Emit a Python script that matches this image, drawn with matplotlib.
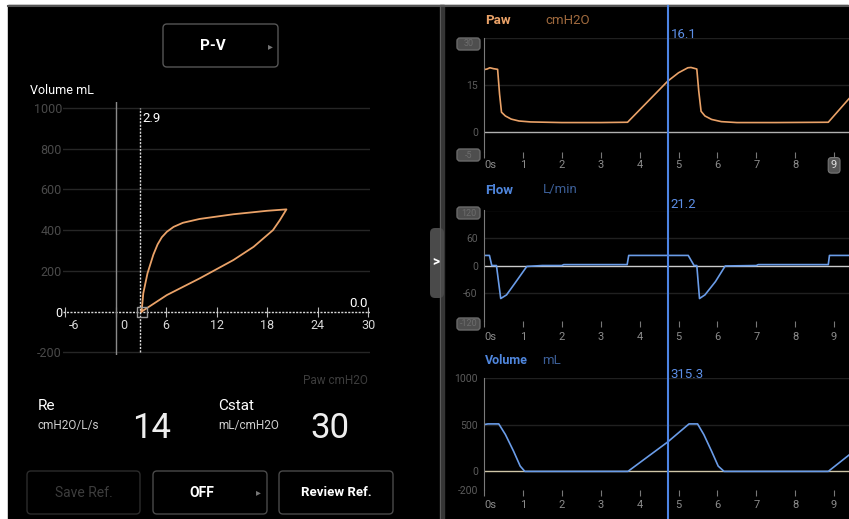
import matplotlib.pyplot as plt
import matplotlib.transforms as mtransforms
from matplotlib.patches import Rectangle, FancyBboxPatch
from matplotlib.lines import Line2D

plt.rcParams['font.family'] = ['Roboto', 'DejaVu Sans']

W, H = 849, 519

# P-V loop (pressure cmH2O, volume mL)
pv_pressure = [3.1, 3.3, 3.8, 4.5, 5.0, 5.5, 6.1, 6.9, 8.0, 10.0, 14.0, 18.0, 20.3,
               19.5, 18.7, 16.4, 14.0, 10.0, 6.1, 3.7, 3.1]
pv_volume = [0, 90, 188, 280, 330, 365, 392, 416, 436, 455, 478, 495, 502,
             448, 400, 318, 253, 163, 81, 16, 0]
pv_cursor = 2.9
pv_xticks = [-6, 0, 6, 12, 18, 24, 30]
pv_yticks = [1000, 800, 600, 400, 200, 0, -200]

# waveforms over the 0-9 s sweep
time_ticks = list(range(10))
time_labels = ['0s', '1', '2', '3', '4', '5', '6', '7', '8', '9']
cursor_t = 4.72

paw_t = [0, 0.08, 0.15, 0.25, 0.35, 0.40, 0.45, 0.55, 0.7, 0.9, 1.2, 2.0, 3.0, 3.69,
         4.72, 5.0, 5.24, 5.32, 5.47, 5.52, 5.58, 5.68, 5.85, 6.1, 6.5, 7.5, 8.85, 9.38]
paw_v = [19.8, 20.0, 20.4, 20.1, 19.9, 12, 6.2, 5, 4.0, 3.4, 3.1, 2.9, 2.9, 3.0,
         16.1, 18.8, 20.4, 20.5, 20.0, 13, 6.5, 5, 3.9, 3.2, 2.9, 2.9, 3.0, 10.5]

flow_t = [0, 0.14, 0.2, 0.32, 0.43, 0.58, 0.8, 1.1, 1.5, 2.0, 2.05, 3.0, 3.68, 3.72,
          5.25, 5.4, 5.47, 5.54, 5.68, 5.95, 6.2, 7.0, 7.05, 8.85, 8.88, 9.38]
flow_v = [22, 22, 0, 0, -72, -64, -38, -2, 0, 0, 2, 2, 2, 22,
          22, 0, 0, -72, -64, -35, -1, 0, 2, 2, 22, 22]

vol_t = [0, 0.1, 0.38, 0.55, 0.76, 0.93, 1.05, 3.7, 4.72, 5.27, 5.49, 5.65, 5.85, 6.02, 6.17, 8.85, 9.38]
vol_v = [503, 510, 510, 396, 217, 57, 0, 0, 315.3, 510, 510, 396, 217, 57, 0, 0, 175]

cursor_values = ['16.1', '21.2', '315.3']
re_value = 14
cstat_value = 30

ORANGE = '#eaa268'
BLUE = '#6a9ce8'
CURSOR = '#4d84e4'


def rect(x0, y0, x1, y1):
    return [x0 / W, 1 - y1 / H, (x1 - x0) / W, (y1 - y0) / H]


fig = plt.figure(figsize=(W / 100, H / 100), dpi=100, facecolor='white')

# background / UI layer in pixel coordinates
bg = fig.add_axes([0, 0, 1, 1])
bg.set_xlim(0, W)
bg.set_ylim(H, 0)
bg.axis('off')
bg.add_patch(Rectangle((8, 5), 840, 514, color='black'))
bg.plot([8, 848], [5.5, 5.5], color='#555555', lw=1.5)
bg.add_patch(Rectangle((440, 5), 4, 514, color='#363636'))
bg.plot([440.5, 440.5], [5, 519], color='#5a5a5a', lw=0.8)


def box(x0, y0, x1, y1, ec, fc='none', r=3, lw=1):
    bg.add_patch(FancyBboxPatch((x0, y0), x1 - x0, y1 - y0,
                                boxstyle=f'round,pad=0,rounding_size={r}',
                                ec=ec, fc=fc, lw=lw))


# collapse tab
box(430, 228, 444, 298, ec='none', fc='#4a4a4a', r=5)
bg.text(435.5, 262, '>', color='white', fontsize=10, fontweight='bold', ha='center', va='center')

# P-V selector and labels
box(163, 24, 278, 67, ec='#555555', r=4)
bg.text(213, 46, 'P-V', color='white', fontsize=11, fontweight='bold', ha='center', va='center')
bg.text(270, 46, '▸', color='#777777', fontsize=7, ha='center', va='center', family='DejaVu Sans')
bg.text(30, 90, 'Volume mL', color='white', fontsize=9, va='center')
bg.text(368, 380, 'Paw cmH2O', color='#3d3d3d', fontsize=8.5, ha='right', va='center')

bg.text(38, 406, 'Re', color='white', fontsize=11, va='center')
bg.text(38, 426, 'cmH2O/L/s', color='#cfcfcf', fontsize=8.5, va='center')
bg.text(152, 428, f'{re_value}', color='#eeeeee', fontsize=25, ha='center', va='center')
bg.text(218, 406, 'Cstat', color='white', fontsize=11, va='center')
bg.text(218, 426, 'mL/cmH2O', color='#cfcfcf', fontsize=8.5, va='center')
bg.text(330, 428, f'{cstat_value}', color='#eeeeee', fontsize=25, ha='center', va='center')

# buttons
box(27, 471, 140, 514, ec='#2c2c2c', r=4)
bg.text(84, 493, 'Save Ref.', color='#3d3d3d', fontsize=10, ha='center', va='center')
box(153, 471, 267, 514, ec='#4a4a4a', r=4)
bg.text(202, 493, 'OFF', color='white', fontsize=10, fontweight='bold', ha='center', va='center')
bg.text(258, 492, '▸', color='#777777', fontsize=7, ha='center', va='center', family='DejaVu Sans')
box(279, 471, 393, 514, ec='#4a4a4a', r=4)
bg.text(336, 493, 'Review Ref.', color='white', fontsize=9.5, fontweight='bold', ha='center', va='center')

# waveform titles
bg.text(485, 20, 'Paw', color=ORANGE, fontsize=9.5, fontweight='bold', va='center')
bg.text(545, 20, 'cmH2O', color='#a06a3e', fontsize=9.5, va='center')
bg.text(485, 190, 'Flow', color='#4f86dd', fontsize=9.5, fontweight='bold', va='center')
bg.text(543, 190, 'L/min', color='#3c5f98', fontsize=9.5, va='center')
bg.text(485, 360, 'Volume', color='#4f86dd', fontsize=9, fontweight='bold', va='center')
bg.text(542, 360, 'mL', color='#3c5f98', fontsize=9.5, va='center')

# scale limit boxes
for (y0, y1, s) in [(38, 50, '30'), (149, 161, '-5'), (207, 219, '120'), (318, 330, '-120')]:
    box(457, y0, 480, y1, ec='#6a6a6a', fc='#4e4e4e', r=3)
    bg.text(468.5, (y0 + y1) / 2, s, color='#6d6d6d', fontsize=6.5, ha='center', va='center')

# ---- P-V loop ----
ax = fig.add_axes(rect(63.3, 101.9, 369.8, 355.3))
ax.set_xlim(-6.2, 30.2)
ax.set_ylim(-215, 1030)
ax.patch.set_alpha(0)
for s in ax.spines.values():
    s.set_visible(False)
ax.set_yticks(pv_yticks)
ax.set_yticklabels([str(v) for v in pv_yticks])
ax.tick_params(axis='y', length=0, pad=1, labelsize=9, labelcolor='#4a4a4a')
ax.get_yticklabels()[pv_yticks.index(0)].set_color('white')
ax.spines['bottom'].set_position(('data', 0))
ax.set_xticks(pv_xticks)
ax.tick_params(axis='x', direction='inout', length=7, color='#bbbbbb', labelbottom=False)
for v in pv_yticks:
    if v != 0:
        ax.axhline(v, color='#262626', lw=1, zorder=0)
ax.axhline(0, color='#d8d8d8', lw=1, ls=(0, (1.5, 1)))
ax.axvline(0, color='#8a8a8a', lw=1)
ax.vlines(pv_cursor, -200, 1000, colors='#dddddd', linestyles=(0, (1.5, 1)), lw=1)
ax.annotate(f'{pv_cursor}', (pv_cursor, 950), xytext=(2, 0), textcoords='offset points',
            color='white', fontsize=9.5, va='center')
ax.text(30, 40, '0.0', color='white', fontsize=9.5, ha='right', va='center')
for x in pv_xticks:
    dx = {-6: 6.5, 0: 5.8}.get(x, 0)
    ax.annotate(str(x), (x, 0), xytext=(dx, -9.7), textcoords='offset points',
                color='#d8d8d8', fontsize=9, ha='center', va='center')
ax.plot(pv_pressure, pv_volume, color=ORANGE, lw=1.3)
ax.plot(pv_pressure[0], 0, marker='s', ms=7, mfc='none', mec='#9a9a9a', mew=1)


# ---- waveforms ----
def wave(top, bottom, ylim, yticks, ylabels, grid, zero_color, xpad):
    a = fig.add_axes(rect(484, top, 848.9, bottom))
    a.set_xlim(0, 9.38)
    a.set_ylim(*ylim)
    a.patch.set_alpha(0)
    for s in ['top', 'right', 'bottom']:
        a.spines[s].set_visible(False)
    a.spines['left'].set_color('#7a7a7a')
    a.set_xticks(time_ticks)
    a.set_xticklabels(time_labels)
    a.tick_params(axis='x', length=4, color='#777777', labelcolor='#8c8c8c', labelsize=8, pad=xpad)
    a.get_xticklabels()[0].set_ha('left')
    a.set_yticks(yticks)
    a.set_yticklabels(ylabels)
    a.tick_params(axis='y', length=0, pad=4.5, labelcolor='#5c5c5c', labelsize=7.5)
    for g in grid:
        a.axhline(g, color='#202020', lw=1, zorder=0)
    a.axhline(0, color=zero_color, lw=1)
    return a


ax_paw = wave(37.7, 152, (-6.5, 30), [30, 15, 0], ['', '15', '0'], [30, 15], '#b0b0b0', 2)
ax_paw.plot(paw_t, paw_v, color=ORANGE, lw=1.2)
nine = ax_paw.get_xticklabels()[-1]
nine.set_color('#e0e0e0')
nine.set_bbox(dict(boxstyle='round,pad=0.25,rounding_size=0.3', fc='#555555', ec='#777777', lw=0.8))

ax_flow = wave(210.5, 321, (-121, 120), [120, 60, 0, -60], ['', '60', '0', '-60'],
               [120, 60, -60], '#cccccc', 4)
ax_flow.plot(flow_t, flow_v, color=BLUE, lw=1.2)

ax_vol = wave(378.3, 490, (-196, 1000), [1000, 500, 0, -200], ['1000', '500', '0', '-200'],
              [1000, 500], '#cfc6a8', 3)
ax_vol.plot(vol_t, vol_v, color=BLUE, lw=1.2)

# cursor line through all three traces
line_trans = mtransforms.blended_transform_factory(ax_paw.transData, fig.transFigure)
fig.add_artist(Line2D([cursor_t, cursor_t], [0, 1 - 5.5 / H], transform=line_trans,
                      color=CURSOR, lw=1.5))
text_trans = mtransforms.offset_copy(
    mtransforms.blended_transform_factory(ax_paw.transData, bg.transData), fig=fig, x=3, units='dots')
for y, s in zip([35, 205, 375], cursor_values):
    bg.text(cursor_t, y, s, transform=text_trans, color='#5d8fe6', fontsize=9.5, va='center')

fig.savefig('out.png', dpi=100, facecolor='white')
